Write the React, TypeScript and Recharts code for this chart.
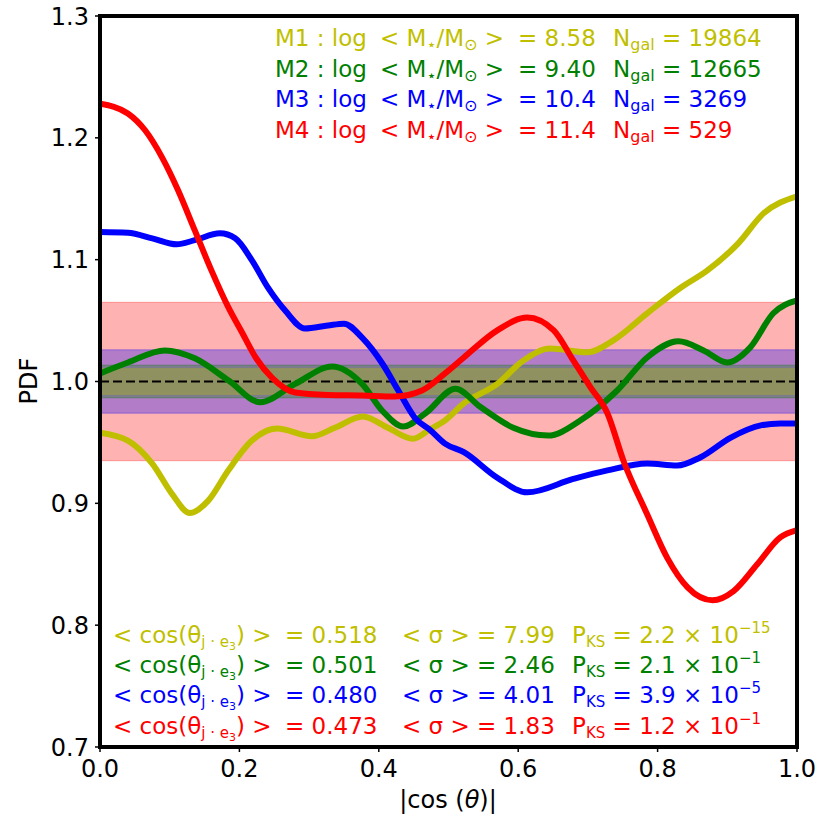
import React from "react";
import { LineChart, Line, XAxis, YAxis, ReferenceArea, ReferenceLine } from "recharts";

// PDF curves (x = |cos(theta)|)
const m1X = [0, 0.04, 0.075, 0.103, 0.129, 0.155, 0.184, 0.218, 0.254, 0.304, 0.337, 0.377, 0.413, 0.449, 0.474, 0.495, 0.522, 0.57, 0.607, 0.646, 0.699, 0.737, 0.785, 0.833, 0.871, 0.915, 0.952, 1.0];
const m1Y = [0.958, 0.9515, 0.9326, 0.908, 0.892, 0.902, 0.927, 0.9515, 0.9614, 0.955, 0.962, 0.9712, 0.962, 0.953, 0.961, 0.968, 0.982, 0.998, 1.017, 1.027, 1.024, 1.034, 1.056, 1.077, 1.091, 1.113, 1.138, 1.152];

const m2X = [0, 0.04, 0.093, 0.136, 0.184, 0.23, 0.28, 0.333, 0.376, 0.405, 0.435, 0.467, 0.51, 0.546, 0.593, 0.643, 0.689, 0.742, 0.785, 0.83, 0.866, 0.9, 0.933, 0.966, 1.0];
const m2Y = [1.0066, 1.0156, 1.0255, 1.019, 1.001, 0.983, 0.998, 1.0123, 0.998, 0.976, 0.963, 0.974, 0.994, 0.979, 0.962, 0.9556, 0.968, 0.9926, 1.0197, 1.033, 1.0255, 1.0156, 1.028, 1.056, 1.0666];

const m3X = [0, 0.04, 0.075, 0.11, 0.136, 0.172, 0.194, 0.218, 0.241, 0.266, 0.294, 0.327, 0.35, 0.376, 0.405, 0.428, 0.452, 0.474, 0.495, 0.522, 0.57, 0.613, 0.679, 0.728, 0.785, 0.828, 0.861, 0.905, 0.948, 0.976, 1.0];
const m3Y = [1.1227, 1.122, 1.1175, 1.1126, 1.116, 1.1216, 1.1175, 1.0994, 1.077, 1.058, 1.0435, 1.046, 1.0475, 1.036, 1.0148, 0.9926, 0.97, 0.96, 0.949, 0.942, 0.921, 0.909, 0.92, 0.927, 0.9326, 0.931, 0.9376, 0.954, 0.964, 0.9655, 0.9655];

const m4X = [0, 0.04, 0.065, 0.089, 0.112, 0.136, 0.16, 0.184, 0.204, 0.223, 0.247, 0.28, 0.327, 0.376, 0.423, 0.462, 0.495, 0.522, 0.57, 0.613, 0.651, 0.679, 0.704, 0.728, 0.751, 0.785, 0.814, 0.843, 0.879, 0.909, 0.943, 0.976, 1.0];
const m4Y = [1.228, 1.22, 1.206, 1.184, 1.157, 1.124, 1.091, 1.061, 1.04, 1.02, 1.003, 0.991, 0.989, 0.9885, 0.9877, 0.9926, 1.0066, 1.0197, 1.042, 1.0526, 1.042, 1.0173, 0.995, 0.974, 0.935, 0.891, 0.855, 0.831, 0.8204, 0.828, 0.85, 0.872, 0.878];

const colors = ["#bfbf00", "#008000", "#0000ff", "#ff0000"];
const xsAll = [m1X, m2X, m3X, m4X];
const ysAll = [m1Y, m2Y, m3Y, m4Y];

// half widths of the shaded bands around PDF = 1 (drawn red, blue, green, yellow)
const bandHalf = [0.065, 0.026, 0.0135, 0.0105];
const bandColors = ["#ff0000", "#0000ff", "#008000", "#bfbf00"];

const xTicks = [0, 0.2, 0.4, 0.6, 0.8, 1.0];
const yTicks = [0.7, 0.8, 0.9, 1.0, 1.1, 1.2, 1.3];

// annotation values
const massNames = ["M1", "M2", "M3", "M4"];
const logMass = ["8.58", "9.40", "10.4", "11.4"];
const nGal = ["19864", "12665", "3269", "529"];
const meanCos = ["0.518", "0.501", "0.480", "0.473"];
const meanSigma = ["7.99", "2.46", "4.01", "1.83"];
const pksMant = ["2.2", "2.1", "3.9", "1.2"];
const pksExp = ["\u221215", "\u22121", "\u22125", "\u22121"];

const FONT = "DejaVu Sans";

type Part = { t: string; s?: number; o?: number; i?: boolean };

function Rich({ x, y, fill, parts, size = 23, anchor }: { x: number; y: number; fill: string; parts: Part[]; size?: number; anchor?: "start" | "middle" | "end" }) {
  let prev = 0;
  return (
    <text x={x} y={y} fill={fill} fontSize={size} fontFamily={FONT} textAnchor={anchor}>
      {parts.map((p, i) => {
        const o = p.o ?? 0;
        const dy = o - prev;
        prev = o;
        return (
          <tspan key={i} dy={dy} fontSize={p.s ?? size} fontStyle={p.i ? "italic" : undefined}>
            {p.t}
          </tspan>
        );
      })}
    </text>
  );
}

function Annotations() {
  return (
    <svg width={830} height={830} style={{ position: "absolute", left: 0, top: 0, pointerEvents: "none" }}>
      {massNames.map((m, i) => {
        const y = 46 + i * 30.5;
        const c = colors[i];
        return (
          <g key={m}>
            <Rich x={275} y={y} fill={c} parts={[{ t: `${m} : log` }]} />
            <Rich x={380} y={y} fill={c} parts={[{ t: "< M" }, { t: "\u22c6", s: 16, o: 4 }, { t: "/M" }, { t: "\u2299", s: 16, o: 4 }, { t: " >" }]} />
            <Rich x={518} y={y} fill={c} parts={[{ t: `= ${logMass[i]}` }]} />
            <Rich x={613} y={y} fill={c} parts={[{ t: "N" }, { t: "gal", s: 16, o: 4 }, { t: ` = ${nGal[i]}` }]} />
          </g>
        );
      })}
      {massNames.map((m, i) => {
        const y = 643 + i * 30.2;
        const c = colors[i];
        return (
          <g key={"b" + m}>
            <Rich
              x={113}
              y={y}
              fill={c}
              parts={[
                { t: "< cos(\u03b8" },
                { t: "j \u00b7 e", s: 15, o: 4 },
                { t: "3", s: 11, o: 7 },
                { t: ")" },
                { t: " >" },
              ]}
            />
            <Rich x={285} y={y} fill={c} parts={[{ t: `= ${meanCos[i]}` }]} />
            <Rich x={402} y={y} fill={c} parts={[{ t: "< \u03c3 >" }]} />
            <Rich x={477} y={y} fill={c} parts={[{ t: `= ${meanSigma[i]}` }]} />
            <Rich
              x={572}
              y={y}
              fill={c}
              parts={[{ t: "P" }, { t: "KS", s: 15, o: 4 }, { t: ` = ${pksMant[i]} \u00d7 10` }, { t: pksExp[i], s: 15, o: -10 }]}
            />
          </g>
        );
      })}
      <Rich x={448} y={808} fill="#000" size={24} anchor="middle" parts={[{ t: "|cos (" }, { t: "\u03b8", i: true }, { t: ")|" }]} />
      <text x={37} y={381} fontSize={24} fontFamily={FONT} textAnchor="middle" transform="rotate(-90 37 381)" fill="#000">
        PDF
      </text>
      <rect x={100} y={16} width={697} height={731} fill="none" stroke="#000" strokeWidth={4} />
    </svg>
  );
}

export default function App() {
  const series = xsAll.map((xs, k) => xs.map((x, i) => ({ x, y: ysAll[k][i] })));
  const tickStyle = { fontSize: 24, fill: "#000", fontFamily: FONT };
  return (
    <div style={{ position: "absolute", left: 0, top: 0, width: 830, height: 830, background: "#fff" }}>
      <LineChart width={830} height={830} margin={{ top: 16, right: 33, bottom: 0, left: 0 }}>
        <XAxis
          type="number"
          dataKey="x"
          domain={[0, 1]}
          ticks={xTicks}
          tickFormatter={(v: number) => v.toFixed(1)}
          height={83}
          tick={tickStyle}
          tickSize={5}
          tickMargin={8}
          axisLine={{ stroke: "#000", strokeWidth: 4 }}
          tickLine={{ stroke: "#000", strokeWidth: 1.5 }}
          allowDataOverflow
        />
        <YAxis
          type="number"
          domain={[0.7, 1.3]}
          ticks={yTicks}
          tickFormatter={(v: number) => v.toFixed(1)}
          width={100}
          tick={tickStyle}
          tickSize={5}
          tickMargin={6}
          axisLine={{ stroke: "#000", strokeWidth: 4 }}
          tickLine={{ stroke: "#000", strokeWidth: 1.5 }}
          allowDataOverflow
        />
        {bandHalf.map((h, i) => (
          <ReferenceArea
            key={i}
            x1={0}
            x2={1}
            y1={1 - h}
            y2={1 + h}
            fill={bandColors[i]}
            fillOpacity={0.3}
            stroke={bandColors[i]}
            strokeOpacity={0.3}
            strokeWidth={1}
          />
        ))}
        <ReferenceLine y={1} stroke="#000" strokeWidth={2} strokeDasharray="9 4" />
        {series.map((d, k) => (
          <Line
            key={k}
            data={d}
            dataKey="y"
            type="monotone"
            stroke={colors[k]}
            strokeWidth={6}
            dot={false}
            activeDot={false}
            isAnimationActive={false}
          />
        ))}
      </LineChart>
      <Annotations />
    </div>
  );
}
